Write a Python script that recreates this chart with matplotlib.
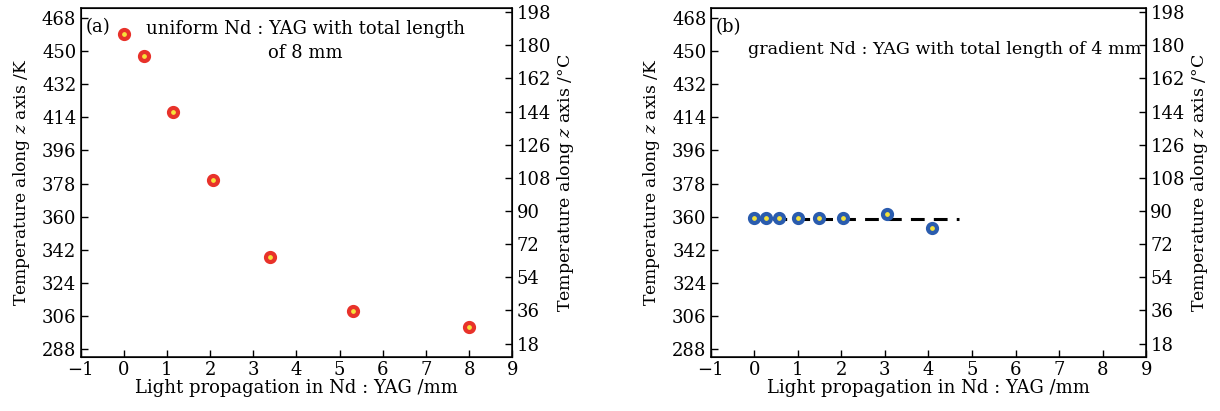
import numpy as np
import matplotlib.pyplot as plt

plt.rcParams['font.family'] = ['DejaVu Serif']
plt.rcParams['mathtext.fontset'] = 'dejavuserif'
plt.rcParams['font.size'] = 13

# panel (a): uniform Nd:YAG, 8 mm
xa = [0.0, 0.47, 1.13, 2.06, 3.39, 5.30, 8.0]
ya = [459.2, 447.4, 416.9, 380.1, 338.4, 308.9, 300.3]

# panel (b): gradient Nd:YAG, 4 mm
xb = [0.0, 0.27, 0.58, 1.01, 1.49, 2.03, 3.06, 4.08]
yb = [359.4, 359.4, 359.4, 359.4, 359.4, 359.4, 361.5, 354.0]
fit_x = [-0.1, 4.7]
fit_y = [359.0, 359.0]

k_ticks = [288, 306, 324, 342, 360, 378, 396, 414, 432, 450, 468]
c_ticks = [18, 36, 54, 72, 90, 108, 126, 144, 162, 180, 198]
x_ticks = list(range(-1, 10))

fig = plt.figure(figsize=(12.2, 4.11), dpi=100)
ax1 = fig.add_axes([0.066, 0.1307, 0.354, 0.85])
ax2 = fig.add_axes([0.5825, 0.1307, 0.357, 0.85])

ylim = (283.7, 473.4)


def style(ax):
    ax.set_xlim(-1, 9)
    ax.set_ylim(*ylim)
    ax.set_xticks(x_ticks)
    ax.set_yticks(k_ticks)
    ax.tick_params(direction='in', length=5, width=1, top=False, right=False, pad=3)
    for s in ax.spines.values():
        s.set_linewidth(1.1)
    ax.set_xlabel('Light propagation in Nd : YAG /mm', labelpad=0)
    ax.set_ylabel('Temperature along $z$ axis /K', labelpad=7, fontsize=12.3)
    t = ax.twinx()
    t.set_ylim(ylim[0] - 273.15, ylim[1] - 273.15)
    t.set_yticks(c_ticks)
    t.tick_params(direction='in', length=5, width=1, pad=3)
    t.set_ylabel('Temperature along $z$ axis /$\\degree$C', labelpad=3, fontsize=12.5)
    return t


style(ax1)
style(ax2)

ax1.plot(xa, ya, 'o', ms=6.5, mfc='#f5e23a', mec='#e8322a', mew=3, zorder=3)
ax1.text(0.012, 0.97, '(a)', transform=ax1.transAxes, va='top', ha='left')
ax1.text(0.52, 0.965, 'uniform Nd : YAG with total length\nof 8 mm',
         transform=ax1.transAxes, va='top', ha='center', linespacing=1.45)

ax2.plot(fit_x, fit_y, '--', color='black', lw=2.2, dashes=(4.5, 3), zorder=2)
ax2.plot(xb, yb, 'o', ms=6.5, mfc='#f5e23a', mec='#2a5cae', mew=3, zorder=3)
ax2.text(0.012, 0.97, '(b)', transform=ax2.transAxes, va='top', ha='left')
ax2.text(0.99, 0.905, 'gradient Nd : YAG with total length of 4 mm',
         transform=ax2.transAxes, va='top', ha='right', fontsize=12.6)

fig.savefig('out.png', dpi=100)
